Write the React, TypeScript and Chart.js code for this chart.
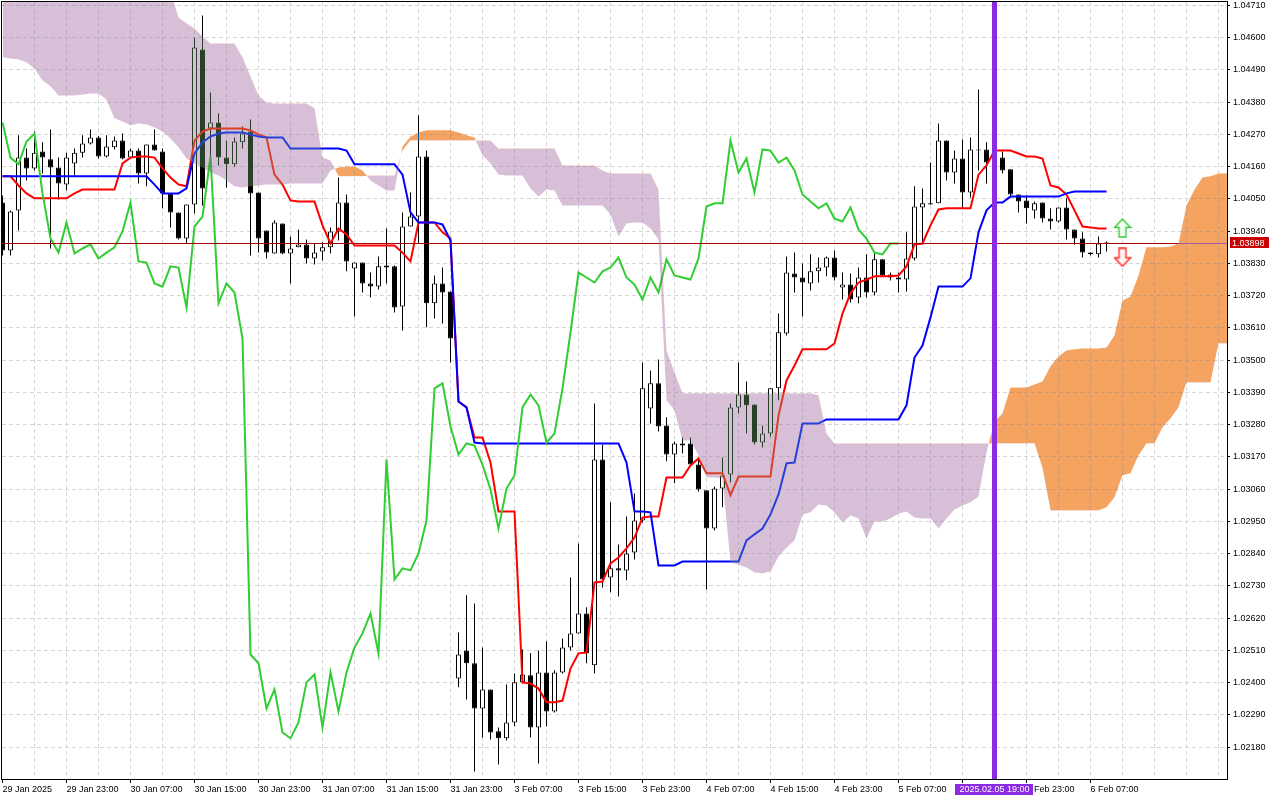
import React, { useEffect, useRef } from "react";
import { Chart, registerables } from "chart.js";

Chart.register(...registerables);

// ---------- data ----------
const X_LABELS = [
  "29 Jan 2025", "29 Jan 23:00", "30 Jan 07:00", "30 Jan 15:00", "30 Jan 23:00", "31 Jan 07:00",
  "31 Jan 15:00", "31 Jan 23:00", "3 Feb 07:00", "3 Feb 15:00", "3 Feb 23:00", "4 Feb 07:00",
  "4 Feb 15:00", "4 Feb 23:00", "5 Feb 07:00", "5 Feb 15:00", "5 Feb 23:00", "6 Feb 07:00",
];
const Y_TICKS = [
  1.0218, 1.0229, 1.024, 1.0251, 1.0262, 1.0273, 1.0284, 1.0295, 1.0306, 1.0317, 1.0328, 1.0339,
  1.035, 1.0361, 1.0372, 1.0383, 1.0394, 1.0405, 1.0416, 1.0427, 1.0438, 1.0449, 1.046, 1.0471,
];

const OPEN = [
  1.04038, 1.03874, 1.04011, 1.04191, 1.04154, 1.04212, 1.04185, 1.04157, 1.04099, 1.04171,
  1.04208, 1.04239, 1.0426, 1.04195, 1.04226, 1.04249, 1.04191, 1.04215, 1.04137, 1.04236,
  1.04212, 1.04069, 1.04004, 1.03915, 1.04031, 1.0456, 1.0429, 1.04311, 1.04191, 1.04168,
  1.04243, 1.0428, 1.04072, 1.03942, 1.03864, 1.03966, 1.03864, 1.03885, 1.03895, 1.03847,
  1.03871, 1.03885, 1.03939, 1.04038, 1.03813, 1.03833, 1.03762, 1.03751, 1.03823, 1.0382,
  1.03683, 1.03956, 1.0399, 1.04195, 1.03694, 1.03762, 1.03734, 1.02414, 1.0251, 1.02466,
  1.02312, 1.02377, 1.02234, 1.0221, 1.02264, 1.02401, 1.02425, 1.02247, 1.02435, 1.02302,
  1.02435, 1.0252, 1.02568, 1.02636, 1.02459, 1.03161, 1.02759, 1.0279, 1.02783, 1.02844,
  1.02953, 1.03335, 1.03421, 1.03277, 1.03178, 1.03216, 1.03216, 1.03144, 1.03056, 1.02926,
  1.03062, 1.0311, 1.03339, 1.03383, 1.03349, 1.03219, 1.0325, 1.03404, 1.03591, 1.03796,
  1.03782, 1.03762, 1.03803, 1.03816, 1.0385, 1.03748, 1.03758, 1.03714, 1.03782, 1.03731,
  1.03844, 1.03792, 1.03782, 1.03775, 1.03847, 1.04021, 1.04031, 1.04035, 1.04249, 1.0414,
  1.04188, 1.04072, 1.04219, 1.04219, 1.04174, 1.04191, 1.04151, 1.04065, 1.04045, 1.04011,
  1.04038, 1.03983, 1.03973, 1.04021, 1.03946, 1.03915, 1.03867, 1.03861, 1.03898,
];
const HIGH = [
  1.04062, 1.04011, 1.04267, 1.04222, 1.0428, 1.04243, 1.04287, 1.04191, 1.04208, 1.04222,
  1.04267, 1.04287, 1.04265, 1.04267, 1.04263, 1.04273, 1.04222, 1.04222, 1.04236, 1.04287,
  1.04222, 1.04069, 1.04004, 1.04031, 1.04601, 1.04676, 1.04413, 1.04342, 1.04249, 1.0426,
  1.04297, 1.04321, 1.04072, 1.03942, 1.03977, 1.03966, 1.03922, 1.03946, 1.03912, 1.03898,
  1.03902, 1.03953, 1.04123, 1.04065, 1.03833, 1.03833, 1.03799, 1.03854, 1.03949, 1.03823,
  1.04004, 1.04072, 1.04335, 1.04215, 1.03789, 1.03816, 1.03734, 1.02571, 1.02698, 1.0267,
  1.0252, 1.02377, 1.02247, 1.02394, 1.02431, 1.02513, 1.025, 1.0251, 1.02541, 1.02442,
  1.02551, 1.02759, 1.02875, 1.02657, 1.03352, 1.03212, 1.03015, 1.02871, 1.02967, 1.03045,
  1.03492, 1.03465, 1.03502, 1.03305, 1.03223, 1.03236, 1.03236, 1.03165, 1.03056, 1.03069,
  1.03168, 1.03352, 1.03492, 1.03427, 1.03349, 1.03277, 1.03404, 1.03659, 1.03854, 1.03867,
  1.0383, 1.03861, 1.0385, 1.03854, 1.03874, 1.03799, 1.03796, 1.03816, 1.03861, 1.03864,
  1.03844, 1.03799, 1.03799, 1.03936, 1.04093, 1.04086, 1.04174, 1.04307, 1.04249, 1.04215,
  1.04253, 1.0426, 1.04423, 1.04243, 1.04215, 1.04212, 1.04151, 1.04065, 1.04062, 1.04041,
  1.04038, 1.04018, 1.04021, 1.04052, 1.03946, 1.03936, 1.03867, 1.03922, 1.03905,
];
const LOW = [
  1.03857, 1.03857, 1.03942, 1.04113, 1.04147, 1.04137, 1.03881, 1.04048, 1.04079, 1.0413,
  1.04191, 1.04236, 1.04188, 1.04191, 1.04219, 1.04185, 1.04188, 1.04103, 1.04093, 1.04215,
  1.04018, 1.03953, 1.03912, 1.03898, 1.04, 1.04028, 1.04195, 1.04164, 1.04089, 1.04161,
  1.04222, 1.03857, 1.03867, 1.03847, 1.03864, 1.03861, 1.03762, 1.03885, 1.0383, 1.03826,
  1.0384, 1.03864, 1.03908, 1.03803, 1.03649, 1.03731, 1.03714, 1.03741, 1.03762, 1.03663,
  1.03601, 1.03956, 1.03898, 1.03612, 1.03642, 1.03625, 1.03492, 1.02384, 1.02343, 1.02097,
  1.02213, 1.02206, 1.02121, 1.02203, 1.02251, 1.02397, 1.02213, 1.02124, 1.02251, 1.02298,
  1.02431, 1.0251, 1.02568, 1.02466, 1.02431, 1.02725, 1.02708, 1.02694, 1.02749, 1.0282,
  1.02946, 1.03284, 1.03257, 1.03155, 1.0308, 1.03182, 1.03137, 1.03052, 1.02718, 1.02919,
  1.02998, 1.03083, 1.03318, 1.0325, 1.03212, 1.03202, 1.0324, 1.03363, 1.03584, 1.03731,
  1.03649, 1.03738, 1.03765, 1.03786, 1.03772, 1.03707, 1.03697, 1.03694, 1.03714, 1.03721,
  1.03786, 1.03772, 1.03731, 1.03734, 1.0384, 1.03898, 1.04031, 1.04035, 1.04113, 1.04103,
  1.04018, 1.04055, 1.04147, 1.04103, 1.04137, 1.04137, 1.04055, 1.04004, 1.03966, 1.03983,
  1.0397, 1.03946, 1.0397, 1.03912, 1.03895, 1.0385, 1.03857, 1.0385, 1.03871,
];
const CLOSE = [
  1.03874, 1.04007, 1.04191, 1.04154, 1.04208, 1.04191, 1.04157, 1.04103, 1.04191, 1.04208,
  1.04239, 1.0426, 1.04195, 1.04229, 1.04249, 1.04188, 1.04215, 1.04137, 1.04236, 1.04215,
  1.04069, 1.04004, 1.03915, 1.04031, 1.04567, 1.04086, 1.04311, 1.04191, 1.04168, 1.04246,
  1.04273, 1.04069, 1.03915, 1.03867, 1.0397, 1.03864, 1.03881, 1.03895, 1.03847, 1.03867,
  1.03885, 1.03939, 1.04038, 1.03837, 1.03833, 1.03762, 1.03751, 1.0382, 1.03816, 1.0368,
  1.03956, 1.0399, 1.04195, 1.03694, 1.03762, 1.03731, 1.03574, 1.02496, 1.02466, 1.02312,
  1.02377, 1.0223, 1.0221, 1.02264, 1.02401, 1.02428, 1.02247, 1.02435, 1.02302, 1.02435,
  1.0252, 1.02568, 1.02636, 1.025, 1.03161, 1.02752, 1.0279, 1.02783, 1.02841, 1.02953,
  1.03404, 1.03421, 1.03274, 1.03178, 1.03216, 1.03209, 1.03144, 1.03059, 1.02926, 1.03062,
  1.03107, 1.03339, 1.03383, 1.03346, 1.03219, 1.0325, 1.03404, 1.03595, 1.03799, 1.03782,
  1.03765, 1.03803, 1.03816, 1.0385, 1.03782, 1.03758, 1.03707, 1.03782, 1.03731, 1.03844,
  1.03789, 1.03782, 1.03775, 1.03847, 1.04024, 1.04035, 1.04035, 1.04249, 1.0414, 1.04188,
  1.04072, 1.04219, 1.04215, 1.04174, 1.04191, 1.04147, 1.04065, 1.04041, 1.04018, 1.04035,
  1.03983, 1.03973, 1.04021, 1.03946, 1.03915, 1.03867, 1.03861, 1.03898, 1.03898,
];

const TENKAN = [
  1.04127, 1.04127, 1.04096, 1.04069, 1.04052, 1.04052, 1.04052, 1.04052, 1.04052, 1.04069,
  1.04082, 1.04082, 1.04082, 1.04082, 1.04082, 1.04171, 1.04191, 1.04195, 1.04195, 1.04191,
  1.04154, 1.04123, 1.04099, 1.04093, 1.04249, 1.0428, 1.0429, 1.0429, 1.0429, 1.0429,
  1.0429, 1.04284, 1.0427, 1.0426, 1.04133, 1.04099, 1.04045, 1.04041, 1.04041, 1.04041,
  1.0396, 1.03898, 1.03949, 1.03929, 1.03891, 1.03891, 1.03891, 1.03891, 1.03891, 1.03891,
  1.03867, 1.03837, 1.0397, 1.0397, 1.0397, 1.03936, 1.03915, 1.03359, 1.03339, 1.03236,
  1.03236, 1.03151, 1.02984, 1.02984, 1.02984, 1.02401, 1.02397, 1.0238, 1.02333, 1.02333,
  1.02339, 1.02448, 1.025, 1.02503, 1.02742, 1.02745, 1.02807, 1.02827, 1.02858, 1.02895,
  1.02963, 1.02967, 1.02967, 1.031, 1.031, 1.031, 1.03141, 1.03165, 1.03114, 1.03114,
  1.03114, 1.03039, 1.03103, 1.03103, 1.03103, 1.03103, 1.03103, 1.03311, 1.03431, 1.03482,
  1.03537, 1.03537, 1.03537, 1.03537, 1.03557, 1.03659, 1.03728, 1.03765, 1.03775, 1.03786,
  1.03786, 1.03786, 1.03789, 1.0382, 1.03895, 1.03898, 1.0396, 1.04014, 1.04018, 1.04018,
  1.04018, 1.04018, 1.04133, 1.04164, 1.04215, 1.04215, 1.04215, 1.04205, 1.04195, 1.04195,
  1.04188, 1.04096, 1.04089, 1.04065, 1.04011, 1.03956, 1.03953, 1.03949, 1.03949,
];
const KIJUN = [
  1.04127, 1.04127, 1.04127, 1.04127, 1.04127, 1.04127, 1.04127, 1.04127, 1.04127, 1.04127,
  1.04127, 1.04127, 1.04127, 1.04127, 1.04127, 1.04127, 1.04127, 1.04127, 1.04127, 1.04099,
  1.04069, 1.04069, 1.04069, 1.04086, 1.04205, 1.04243, 1.04263, 1.04273, 1.04277, 1.04277,
  1.04277, 1.0427, 1.04263, 1.0426, 1.0426, 1.0426, 1.04222, 1.04222, 1.04222, 1.04222,
  1.04222, 1.04222, 1.04222, 1.04215, 1.04168, 1.04168, 1.04168, 1.04168, 1.04168, 1.04168,
  1.04133, 1.04004, 1.0397, 1.0397, 1.0397, 1.03963, 1.03908, 1.03359, 1.03339, 1.03219,
  1.03216, 1.03216, 1.03216, 1.03216, 1.03216, 1.03216, 1.03216, 1.03216, 1.03216, 1.03216,
  1.03216, 1.03216, 1.03216, 1.03216, 1.03216, 1.03216, 1.03216, 1.03216, 1.03151, 1.02984,
  1.02984, 1.02981, 1.028, 1.028, 1.028, 1.02813, 1.02813, 1.02813, 1.02813, 1.02813,
  1.02813, 1.02813, 1.02813, 1.02885, 1.02906, 1.02926, 1.02974, 1.03042, 1.03148, 1.03151,
  1.03284, 1.03284, 1.03284, 1.03298, 1.03298, 1.03298, 1.03298, 1.03298, 1.03298, 1.03298,
  1.03298, 1.03298, 1.03298, 1.03346, 1.03509, 1.0355, 1.03646, 1.03751, 1.03751, 1.03751,
  1.03751, 1.03779, 1.03936, 1.04011, 1.04038, 1.04038, 1.04058, 1.04058, 1.04058, 1.04058,
  1.04058, 1.04058, 1.04058, 1.04069, 1.04075, 1.04075, 1.04075, 1.04075, 1.04075,
];
const CHIKOU = [
  1.04311, 1.04191, 1.04168, 1.04246, 1.04273, 1.04069, 1.03915, 1.03867, 1.0397, 1.03864,
  1.03881, 1.03895, 1.03847, 1.03867, 1.03885, 1.03939, 1.04038, 1.03837, 1.03833, 1.03762,
  1.03751, 1.0382, 1.03816, 1.0368, 1.03956, 1.0399, 1.04195, 1.03694, 1.03762, 1.03731,
  1.03574, 1.02496, 1.02466, 1.02312, 1.02377, 1.0223, 1.0221, 1.02264, 1.02401, 1.02428,
  1.02247, 1.02435, 1.02302, 1.02435, 1.0252, 1.02568, 1.02636, 1.025, 1.03161, 1.02752,
  1.0279, 1.02783, 1.02841, 1.02953, 1.03404, 1.03421, 1.03274, 1.03178, 1.03216, 1.03209,
  1.03144, 1.03059, 1.02926, 1.03062, 1.03107, 1.03339, 1.03383, 1.03346, 1.03219, 1.0325,
  1.03404, 1.03595, 1.03799, 1.03782, 1.03765, 1.03803, 1.03816, 1.0385, 1.03782, 1.03758,
  1.03707, 1.03782, 1.03731, 1.03844, 1.03789, 1.03782, 1.03775, 1.03847, 1.04024, 1.04035,
  1.04035, 1.04249, 1.0414, 1.04188, 1.04072, 1.04219, 1.04215, 1.04174, 1.04191, 1.04147,
  1.04065, 1.04041, 1.04018, 1.04035, 1.03983, 1.03973, 1.04021, 1.03946, 1.03915, 1.03867,
  1.03861, 1.03898, 1.03898,
];
const SENKOU_A = [
  1.04533, 1.04529, 1.04526, 1.04516, 1.04495, 1.04454, 1.04434, 1.04403, 1.04403, 1.04403,
  1.04406, 1.0441, 1.0441, 1.04389, 1.04325, 1.04314, 1.04301, 1.04307, 1.04304, 1.04294,
  1.0428, 1.04256, 1.04226, 1.04188, 1.04171, 1.04157, 1.0414, 1.0413, 1.04113, 1.04093,
  1.04089, 1.04093, 1.04096, 1.04099, 1.04099, 1.04099, 1.04103, 1.04103, 1.04103, 1.04103,
  1.04103, 1.04147, 1.04157, 1.04161, 1.04161, 1.04147, 1.04113, 1.04096, 1.04079, 1.04079,
  1.04229, 1.04263, 1.04277, 1.04284, 1.04284, 1.04284, 1.04284, 1.04277, 1.04267, 1.0426,
  1.04198, 1.04171, 1.04133, 1.0413, 1.0413, 1.0413, 1.04086, 1.04058, 1.04082, 1.04079,
  1.04028, 1.04028, 1.04028, 1.04028, 1.04028, 1.04028, 1.03997, 1.03922, 1.03966, 1.0397,
  1.0397, 1.03949, 1.03912, 1.03363, 1.03329, 1.03226, 1.03226, 1.03175, 1.031, 1.031,
  1.03097, 1.0281, 1.02803, 1.02793, 1.02776, 1.02773, 1.02779, 1.0283, 1.02861, 1.02885,
  1.02974, 1.02981, 1.03008, 1.03004, 1.02981, 1.02946, 1.0297, 1.0296, 1.02892, 1.0295,
  1.0295, 1.0296, 1.02977, 1.02984, 1.02963, 1.0296, 1.0296, 1.02926, 1.0296, 1.02991,
  1.03004, 1.03015, 1.03035, 1.03185, 1.03291, 1.03318, 1.03407, 1.03407, 1.03407, 1.03417,
  1.03427, 1.03479, 1.03513, 1.03533, 1.03537, 1.0354, 1.0354, 1.0354, 1.03543, 1.03584,
  1.03704, 1.03717, 1.03789, 1.03885, 1.03885, 1.03885, 1.03888, 1.03898, 1.04028, 1.04082,
  1.04123, 1.04127, 1.04137, 1.04137, 1.04137,
];
const SENKOU_B = [
  1.0476, 1.0476, 1.0476, 1.0476, 1.0476, 1.0476, 1.0476, 1.0476, 1.0476, 1.0476,
  1.0476, 1.0476, 1.0476, 1.0476, 1.0476, 1.0476, 1.0476, 1.0476, 1.0476, 1.0476,
  1.0476, 1.0476, 1.04669, 1.04649, 1.04631, 1.04604, 1.0458, 1.0458, 1.0458, 1.0458,
  1.04533, 1.04468, 1.04403, 1.04379, 1.04376, 1.04376, 1.04376, 1.04376, 1.04376, 1.04359,
  1.04191, 1.04181, 1.04127, 1.04127, 1.04127, 1.04127, 1.0413, 1.0413, 1.0413, 1.0413,
  1.04215, 1.04249, 1.04249, 1.04249, 1.04249, 1.04249, 1.04249, 1.04249, 1.04249, 1.04249,
  1.04249, 1.04249, 1.04222, 1.04222, 1.04222, 1.04222, 1.04222, 1.04222, 1.04222, 1.04222,
  1.04164, 1.04164, 1.04164, 1.04164, 1.04164, 1.04147, 1.04137, 1.04137, 1.04137, 1.04137,
  1.04137, 1.04137, 1.04082, 1.03533, 1.03458, 1.03387, 1.03387, 1.03387, 1.03387, 1.03387,
  1.03387, 1.03387, 1.03387, 1.03387, 1.03387, 1.03387, 1.03387, 1.03387, 1.03387, 1.03387,
  1.03387, 1.03387, 1.0338, 1.0325, 1.03216, 1.03216, 1.03216, 1.03216, 1.03216, 1.03216,
  1.03216, 1.03216, 1.03216, 1.03216, 1.03216, 1.03216, 1.03216, 1.03216, 1.03216, 1.03216,
  1.03216, 1.03216, 1.03216, 1.03216, 1.03216, 1.03216, 1.03216, 1.03216, 1.03216, 1.03216,
  1.03131, 1.02987, 1.02987, 1.02987, 1.02987, 1.02987, 1.02987, 1.02987, 1.02998, 1.03032,
  1.03107, 1.03114, 1.03175, 1.03216, 1.03216, 1.0327, 1.03301, 1.03339, 1.03424, 1.03424,
  1.03424, 1.03424, 1.03557, 1.03557, 1.03557,
];

const SIGNAL_INDEX = 140;
const SIGNAL_UP = 1.03951;
const SIGNAL_DOWN = 1.03851;
const MARKER_INDEX = 124;
const MARKER_LABEL = "2025.02.05 19:00";

// ---------- view ----------
const X_MIN = -0.0625;
const X_MAX = 153.0625;
const Y_MIN = 1.020714;
const Y_MAX = 1.047218;
const LABEL_STEP = 8;
const GRID_STEP = 4;
const FONT = "'Liberation Sans', Arial, sans-serif";
const GRID_COLOR = "#d6d6d6";

function makeArrow(up: boolean, stroke: string, fill: string) {
  const c = document.createElement("canvas");
  c.width = 18;
  c.height = 20;
  const g = c.getContext("2d") as CanvasRenderingContext2D;
  const pts = [
    [9, 1], [17, 9.5], [12.5, 9.5], [12.5, 19], [5.5, 19], [5.5, 9.5], [1, 9.5],
  ].map(([x, y]) => [x, up ? y : 20 - y]);
  g.beginPath();
  pts.forEach(([x, y], k) => (k === 0 ? g.moveTo(x, y) : g.lineTo(x, y)));
  g.closePath();
  g.fillStyle = fill;
  g.fill();
  g.strokeStyle = stroke;
  g.lineWidth = 1.4;
  g.stroke();
  return c;
}

function makeScales(visible: boolean, gridTicks: number[]) {
  return {
    x: {
      type: "linear",
      min: X_MIN,
      max: X_MAX,
      offset: false,
      afterBuildTicks: (s: any) => {
        s.ticks = gridTicks.map((v) => ({ value: v }));
      },
      afterFit: (s: any) => {
        s.height = 21;
        s.paddingLeft = 0;
        s.paddingRight = 0;
      },
      ticks: {
        display: visible,
        autoSkip: false,
        maxRotation: 0,
        minRotation: 0,
        align: "start",
        padding: 1,
        color: "#000",
        font: { family: FONT, size: 9 },
        callback: (v: any) => {
          const k = Number(v) / LABEL_STEP;
          return Number.isInteger(k) && k < X_LABELS.length ? X_LABELS[k] : "";
        },
      },
      grid: {
        display: visible,
        offset: false,
        color: (c: any) => (c.tick && c.tick.value === 0 ? "rgba(0,0,0,0)" : GRID_COLOR),
        lineWidth: 1,
        drawTicks: true,
        tickLength: 4,
        tickWidth: 1,
        tickColor: (c: any) => {
          const v = c.tick ? c.tick.value : -1;
          return v % LABEL_STEP === 0 && v / LABEL_STEP < X_LABELS.length ? "#000" : "rgba(0,0,0,0)";
        },
      },
      border: { display: visible, color: "#000", width: 1, dash: [4, 3] },
    },
    y: {
      type: "linear",
      position: "right",
      min: Y_MIN,
      max: Y_MAX,
      afterBuildTicks: (s: any) => {
        s.ticks = Y_TICKS.map((v) => ({ value: v }));
      },
      afterFit: (s: any) => {
        s.width = 53;
        s.paddingTop = 0;
        s.paddingBottom = 0;
      },
      ticks: {
        display: visible,
        autoSkip: false,
        padding: 3,
        color: "#000",
        font: { family: FONT, size: 9 },
        callback: (v: any) => Number(v).toFixed(5),
      },
      grid: {
        display: visible,
        color: GRID_COLOR,
        lineWidth: 1,
        drawTicks: true,
        tickLength: 3,
        tickColor: "#000",
      },
      border: { display: visible, color: "#000", width: 1, dash: [4, 3] },
    },
  };
}

const commonOptions = {
  responsive: false,
  maintainAspectRatio: false,
  devicePixelRatio: 1,
  animation: false,
  events: [],
  layout: { autoPadding: false, padding: { left: 2, top: 2, right: 0, bottom: 0 } },
  plugins: { legend: { display: false }, tooltip: { enabled: false } },
  elements: { line: { tension: 0 }, point: { radius: 0, hoverRadius: 0 } },
};

const overlayPlugin = {
  id: "mtOverlay",
  afterDraw(chart: any) {
    const { ctx, chartArea, scales } = chart;
    const xs = scales.x;
    const ys = scales.y;
    ctx.save();
    ctx.strokeStyle = "#000";
    ctx.lineWidth = 1;
    ctx.strokeRect(
      chartArea.left - 0.5,
      chartArea.top - 0.5,
      chartArea.right - chartArea.left + 1,
      chartArea.bottom - chartArea.top + 1
    );
    const mx = xs.getPixelForValue(MARKER_INDEX);
    ctx.fillStyle = "#8a2be2";
    ctx.fillRect(mx - 2.5, chartArea.top, 5, chartArea.bottom - chartArea.top);
    ctx.font = `9px ${FONT}`;
    const tw = ctx.measureText(MARKER_LABEL).width;
    const bw = Math.round(tw + 8);
    ctx.fillRect(Math.round(mx - bw / 2), chartArea.bottom + 5, bw, 11);
    ctx.fillStyle = "#fff";
    ctx.textAlign = "center";
    ctx.textBaseline = "middle";
    ctx.fillText(MARKER_LABEL, mx, chartArea.bottom + 11);
    const last = CLOSE[CLOSE.length - 1];
    const py = Math.floor(ys.getPixelForValue(last));
    ctx.fillStyle = "#c80000";
    ctx.fillRect(chartArea.right + 3, py - 6, 39, 11);
    ctx.fillStyle = "#fff";
    ctx.textAlign = "left";
    ctx.fillText(last.toFixed(5), chartArea.right + 5, py + 0.5);
    ctx.restore();
  },
};

// keeps the marker line visible through the blended cloud layer
const cloudCutPlugin = {
  id: "cloudCut",
  afterDatasetsDraw(chart: any) {
    const { ctx, chartArea, scales } = chart;
    const mx = scales.x.getPixelForValue(MARKER_INDEX);
    ctx.clearRect(mx - 2.5, chartArea.top, 5, chartArea.bottom - chartArea.top);
  },
};

export default function App() {
  const baseRef = useRef<HTMLCanvasElement | null>(null);
  const cloudRef = useRef<HTMLCanvasElement | null>(null);

  useEffect(() => {
    if (!baseRef.current || !cloudRef.current) return;
    const n = OPEN.length;
    const pts = (arr: number[]) => arr.map((v, i) => ({ x: i, y: v }));
    const bodyColors = OPEN.map((o, i) => (CLOSE[i] >= o ? "#ffffff" : "#000000"));
    const gridTicks: number[] = [];
    for (let v = 0; v <= X_MAX; v += GRID_STEP) gridTicks.push(v);

    const baseDatasets: any[] = [
      {
        type: "bar",
        label: "wick",
        data: HIGH.map((h, i) => ({ x: i, y: [LOW[i], h] })),
        backgroundColor: "#000",
        borderWidth: 0,
        barThickness: 1,
        grouped: false,
        inflateAmount: 0,
        order: 11,
      },
      {
        type: "bar",
        label: "body",
        data: OPEN.map((o, i) => ({ x: i, y: [o, CLOSE[i]] })),
        backgroundColor: bodyColors,
        borderColor: "#000",
        borderWidth: 1,
        borderSkipped: false,
        barThickness: 5,
        minBarLength: 1,
        grouped: false,
        inflateAmount: 0,
        order: 10,
      },
      {
        type: "line",
        label: "Tenkan-sen",
        data: pts(TENKAN),
        borderColor: "#ff0000",
        borderWidth: 2,
        pointRadius: 0,
        fill: false,
        order: 8,
      },
      {
        type: "line",
        label: "Kijun-sen",
        data: pts(KIJUN),
        borderColor: "#0000ff",
        borderWidth: 2,
        pointRadius: 0,
        fill: false,
        order: 7,
      },
      {
        type: "line",
        label: "Chikou Span",
        data: pts(CHIKOU),
        borderColor: "#32cd32",
        borderWidth: 2,
        pointRadius: 0,
        fill: false,
        order: 6,
      },
      {
        type: "line",
        label: "Bid",
        data: [
          { x: X_MIN, y: CLOSE[n - 1] },
          { x: X_MAX, y: CLOSE[n - 1] },
        ],
        borderColor: "#a80000",
        borderWidth: 1,
        pointRadius: 0,
        fill: false,
        order: 5,
      },
      {
        type: "line",
        label: "signals",
        data: [
          { x: SIGNAL_INDEX, y: SIGNAL_UP },
          { x: SIGNAL_INDEX, y: SIGNAL_DOWN },
        ],
        showLine: false,
        pointStyle: [makeArrow(true, "#3cc83c", "#f2fff2"), makeArrow(false, "#ff2a2a", "#fff2f2")],
        pointRadius: 10,
        order: 1,
      },
    ];

    const base = new Chart(baseRef.current, {
      type: "line",
      data: { datasets: baseDatasets },
      options: { ...commonOptions, scales: makeScales(true, gridTicks) },
      plugins: [overlayPlugin],
    } as any);

    // Kumo cloud: its own layer, painted with an "exclusion" blend over the price chart
    // (colours are the inverse of sandybrown / thistle)
    const cloud = new Chart(cloudRef.current, {
      type: "line",
      data: {
        datasets: [
          {
            label: "Senkou Span B",
            data: pts(SENKOU_B),
            borderColor: "rgba(0,0,0,0)",
            borderWidth: 0,
            pointRadius: 0,
            fill: false,
          },
          {
            label: "Senkou Span A",
            data: pts(SENKOU_A),
            borderColor: "rgba(0,0,0,0)",
            borderWidth: 0,
            pointRadius: 0,
            fill: { target: 0, above: "rgb(11,91,159)", below: "rgb(39,64,39)" },
          },
        ],
      },
      options: { ...commonOptions, scales: makeScales(false, gridTicks) },
      plugins: [cloudCutPlugin],
    } as any);

    return () => {
      base.destroy();
      cloud.destroy();
    };
  }, []);

  const layer: React.CSSProperties = {
    position: "absolute",
    left: 0,
    top: 0,
    width: 1280,
    height: 800,
    display: "block",
  };
  return (
    <div style={{ position: "absolute", left: 0, top: 0, width: 1280, height: 800, background: "#fff" }}>
      <canvas ref={baseRef} width={1280} height={800} style={layer} />
      <canvas ref={cloudRef} width={1280} height={800} style={{ ...layer, mixBlendMode: "exclusion" }} />
    </div>
  );
}
